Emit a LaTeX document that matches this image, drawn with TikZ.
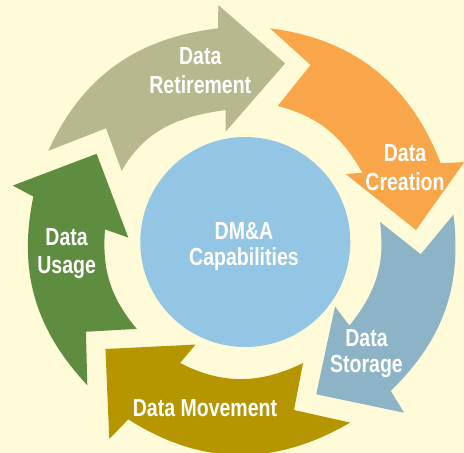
\documentclass[tikz,border=0pt]{standalone}
\usepackage{fontspec}
\setmainfont{Liberation Sans}[FakeStretch=0.79]
\definecolor{bgc}{HTML}{FFFAD7}
\definecolor{retc}{HTML}{B8B88F}
\definecolor{crec}{HTML}{F9A64A}
\definecolor{stoc}{HTML}{8DB3C7}
\definecolor{movc}{HTML}{B69600}
\definecolor{usec}{HTML}{5E8D3F}
\definecolor{hubc}{HTML}{93C5E4}
\begin{document}
\begin{tikzpicture}[x=1pt,y=1pt,
  lbl/.style={text=white, inner sep=0pt, align=center,
    font=\bfseries\fontsize{24.7}{#1}\selectfont},
  arrowshape/.style={draw=none}]
\useasboundingbox (-243,-213) rectangle (221,240);
\fill[bgc] (-243,-213) rectangle (221,240);
% Data Retirement
\fill[retc, arrowshape] (155.4:214.2) -- (140.8:176.8) -- (150.3:139.7)
  to[out=60.3, in=187.6] (97.6:131.1) -- (99.1:109.7) -- (76.6:181.6)
  -- (96:236.3) -- (96.7:213.1) to[out=186.7, in=65.4] cycle;
% Data Creation
\fill[crec, arrowshape] (82.7:213.4) -- (68.9:187.6) -- (75.5:138.4)
  to[out=-14.5, in=119.4] (29.4:137) -- (32.7:122.1) -- (3.3:173.3)
  -- (19.4:234.7) -- (21.2:212.1) to[out=111.2, in=-7.3] cycle;
% Data Storage
\fill[stoc, arrowshape] (6.9:212) -- (-4.6:178.3) -- (7.5:138.2)
  to[out=-82.5, in=51.2] (-38.8:136.6) -- (-35.9:113.6) -- (-64.6:170.8)
  -- (-47:236.1) -- (-45.6:211.2) to[out=44.4, in=-83.1] cycle;
% Data Movement
\fill[movc, arrowshape] (-59.6:211.7) -- (-73.3:177.5) -- (-64:136.9)
  to[out=-154, in=-27.1] (-117.1:138.2) -- (-114.4:114.8) -- (-141.6:175.5)
  -- (-123.9:239.7) -- (-122.6:212.9) to[out=-32.6, in=-149.6] cycle;
% Data Usage
\fill[usec, arrowshape] (223:212.9) -- (210.3:181.9) -- (219.9:138.5)
  to[out=129.9, in=265.6] (175.6:138.4) -- (178.8:114.7) -- (149.5:169.9)
  -- (166.7:236.6) -- (168.3:214.1) to[out=258.3, in=133] cycle;
% hub
\node[circle, fill=hubc, minimum size=210pt, inner sep=0pt] (hub) at (2.3,-2) {};
\node[lbl=26.7] (hubtext) at (1,-6.5) {DM\&A\\Capabilities};
\node[lbl=29.8] (ret) at (-42.7,169.45) {Data\\Retirement};
\node[lbl=29.3] (cre) at (162,72.5) {Data\\Creation};
\node[lbl=26] (sto) at (123.5,-114.1) {Data\\Storage};
\node[lbl=26] (mov) at (-38,-167.9) {Data Movement};
\node[lbl=28] (use) at (-176.4,-13.8) {Data\\Usage};
\end{tikzpicture}
\end{document}
